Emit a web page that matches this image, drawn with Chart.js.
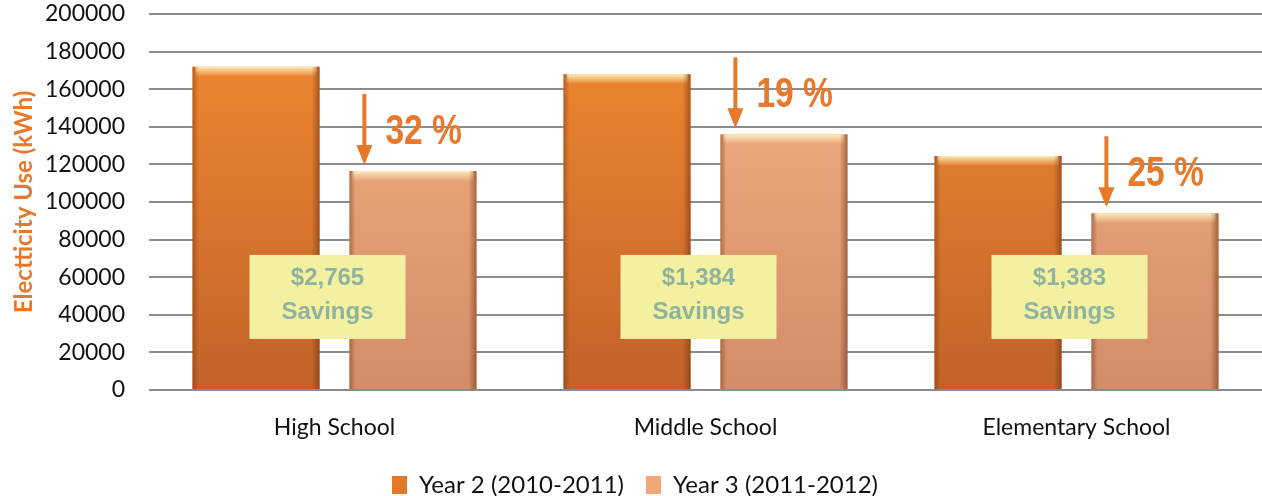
<!DOCTYPE html>
<html>
<head>
<meta charset="utf-8">
<script src="https://cdn.jsdelivr.net/npm/chart.js@4.4.1/dist/chart.umd.min.js"></script>
<style>
  html, body { margin: 0; padding: 0; background: #fff; }
  #wrap { width: 1262px; height: 496px; }
</style>
</head>
<body>
<div id="wrap"><canvas id="chart" width="1262" height="496"></canvas></div>
<script>
const categories = ["High School", "Middle School", "Elementary School"];
const year2 = [172000, 168000, 124500];
const year3 = [116500, 136000, 94000];
const cutLabels = ["32 %", "19 %", "25 %"];
const savingsLabels = ["$2,765", "$1,384", "$1,383"];
const yTicks = [0, 20000, 40000, 60000, 80000, 100000, 120000, 140000, 160000, 180000, 200000];

const ORANGE = "#e8782a";
const FONT = "Lato, 'Open Sans', sans-serif";

// vertical gradient for the bars, built once the chart area exists
function barGradient(top, bottom) {
  return (ctx) => {
    const area = ctx.chart.chartArea;
    if (!area) return top;
    const g = ctx.chart.ctx.createLinearGradient(0, area.top, 0, area.bottom);
    g.addColorStop(0, top);
    g.addColorStop(1, bottom);
    return g;
  };
}

// legend box height fixed so the plot keeps the reference proportions
const legendHeight = {
  id: "legendHeight",
  beforeInit(chart) {
    const fit = chart.legend.fit;
    chart.legend.fit = function () {
      fit.call(this);
      this.height = 45;
    };
  },
};

// bevel look: light strip on top, darker sides
const bevelPlugin = {
  id: "bevel",
  afterDatasetsDraw(chart) {
    const c = chart.ctx;
    chart.data.datasets.forEach((ds, di) => {
      chart.getDatasetMeta(di).data.forEach((bar) => {
        const left = bar.x - bar.width / 2;
        const h = bar.base - bar.y;
        c.save();
        const hg = c.createLinearGradient(0, bar.y, 0, bar.y + 10);
        hg.addColorStop(0, "rgba(255,240,190,0.95)");
        hg.addColorStop(1, "rgba(255,240,190,0)");
        c.fillStyle = hg;
        c.fillRect(left + 3, bar.y, bar.width - 6, 10);
        const lg = c.createLinearGradient(left, 0, left + 6, 0);
        lg.addColorStop(0, "rgba(110,50,15,0.45)");
        lg.addColorStop(1, "rgba(110,50,15,0)");
        c.fillStyle = lg;
        c.fillRect(left, bar.y, 6, h);
        const rg = c.createLinearGradient(left + bar.width, 0, left + bar.width - 8, 0);
        rg.addColorStop(0, "rgba(110,50,15,0.55)");
        rg.addColorStop(1, "rgba(110,50,15,0)");
        c.fillStyle = rg;
        c.fillRect(left + bar.width - 8, bar.y, 8, h);
        c.restore();
      });
    });
  },
};

// arrows, percentage labels and savings boxes
const notesPlugin = {
  id: "notes",
  afterDraw(chart) {
    const c = chart.ctx;
    const xs = chart.scales.x, ys = chart.scales.y;
    const meta3 = chart.getDatasetMeta(1);
    meta3.data.forEach((bar, i) => {
      const ax = bar.x - bar.width / 2 + 15;
      const tip = bar.y - 6;
      const top = tip - 71;
      c.save();
      c.strokeStyle = ORANGE;
      c.fillStyle = ORANGE;
      c.lineWidth = 4;
      c.beginPath();
      c.moveTo(ax, top);
      c.lineTo(ax, tip - 18);
      c.stroke();
      c.beginPath();
      c.moveTo(ax - 8, tip - 20);
      c.lineTo(ax + 8, tip - 20);
      c.lineTo(ax, tip);
      c.closePath();
      c.fill();
      // narrow bold percentage
      c.translate(ax + 21, tip - 33);
      c.scale(0.8, 1);
      c.font = "bold 42px 'Liberation Sans', Arial, sans-serif";
      c.textAlign = "left";
      c.textBaseline = "middle";
      c.fillText(cutLabels[i], 0, 0);
      c.restore();

      // savings box
      const cx = xs.getPixelForValue(i) - 7;
      const cy = ys.getPixelForValue(49500);
      c.save();
      c.fillStyle = "#f3f09f";
      c.fillRect(cx - 78, cy - 42, 156, 84);
      c.fillStyle = "#8fb39f";
      c.font = "bold 24px 'Liberation Sans', Arial, sans-serif";
      c.textAlign = "center";
      c.textBaseline = "middle";
      c.fillText(savingsLabels[i], cx, cy - 19);
      c.fillText("Savings", cx, cy + 15);
      c.restore();
    });
  },
};

new Chart(document.getElementById("chart"), {
  type: "bar",
  data: {
    labels: categories,
    datasets: [
      {
        label: "Year 2 (2010-2011)",
        data: year2,
        backgroundColor: barGradient("#f38a2f", "#c2622a"),
        legendColor: "#e27a2c",
      },
      {
        label: "Year 3 (2011-2012)",
        data: year3,
        backgroundColor: barGradient("#f6b283", "#d38c68"),
        legendColor: "#f0a877",
      },
    ],
  },
  options: {
    responsive: false,
    animation: false,
    layout: { padding: { top: 2, right: 0, left: 8, bottom: 0 } },
    datasets: { bar: { categoryPercentage: 0.846, barPercentage: 0.81 } },
    plugins: {
      tooltip: { enabled: false },
      legend: {
        position: "bottom",
        labels: {
          font: { family: FONT, size: 24 },
          color: "#111",
          boxWidth: 15,
          boxHeight: 18,
          padding: 22,
          generateLabels: (chart) => chart.data.datasets.map((ds, i) => ({
            text: ds.label,
            fillStyle: ds.legendColor,
            strokeStyle: ds.legendColor,
            lineWidth: 0,
            fontColor: "#111",
            datasetIndex: i,
          })),
        },
      },
    },
    scales: {
      x: {
        grid: { display: false },
        border: { display: false },
        afterFit: (s) => { s.height = 61; },
        ticks: {
          font: { family: FONT, size: 23 },
          color: "#111",
          padding: 16,
        },
      },
      y: {
        min: 0,
        max: 200000,
        afterBuildTicks: (axis) => { axis.ticks = yTicks.map((v) => ({ value: v })); },
        afterFit: (s) => {
          s.width = 141;
          s.paddingTop = 14;
          s.paddingBottom = 14;
        },
        border: { display: false },
        grid: { color: "#8c8c8c", lineWidth: 2, drawTicks: false },
        ticks: {
          font: { family: FONT, size: 23 },
          color: "#111",
          padding: 24,
          callback: (v) => String(v),
        },
        title: {
          display: true,
          text: "Electticity Use (kWh)",
          color: ORANGE,
          font: { family: FONT, size: 24, weight: "bold" },
          padding: { top: 2, bottom: 6 },
        },
      },
    },
  },
  plugins: [legendHeight, bevelPlugin, notesPlugin],
});
</script>
</body>
</html>
